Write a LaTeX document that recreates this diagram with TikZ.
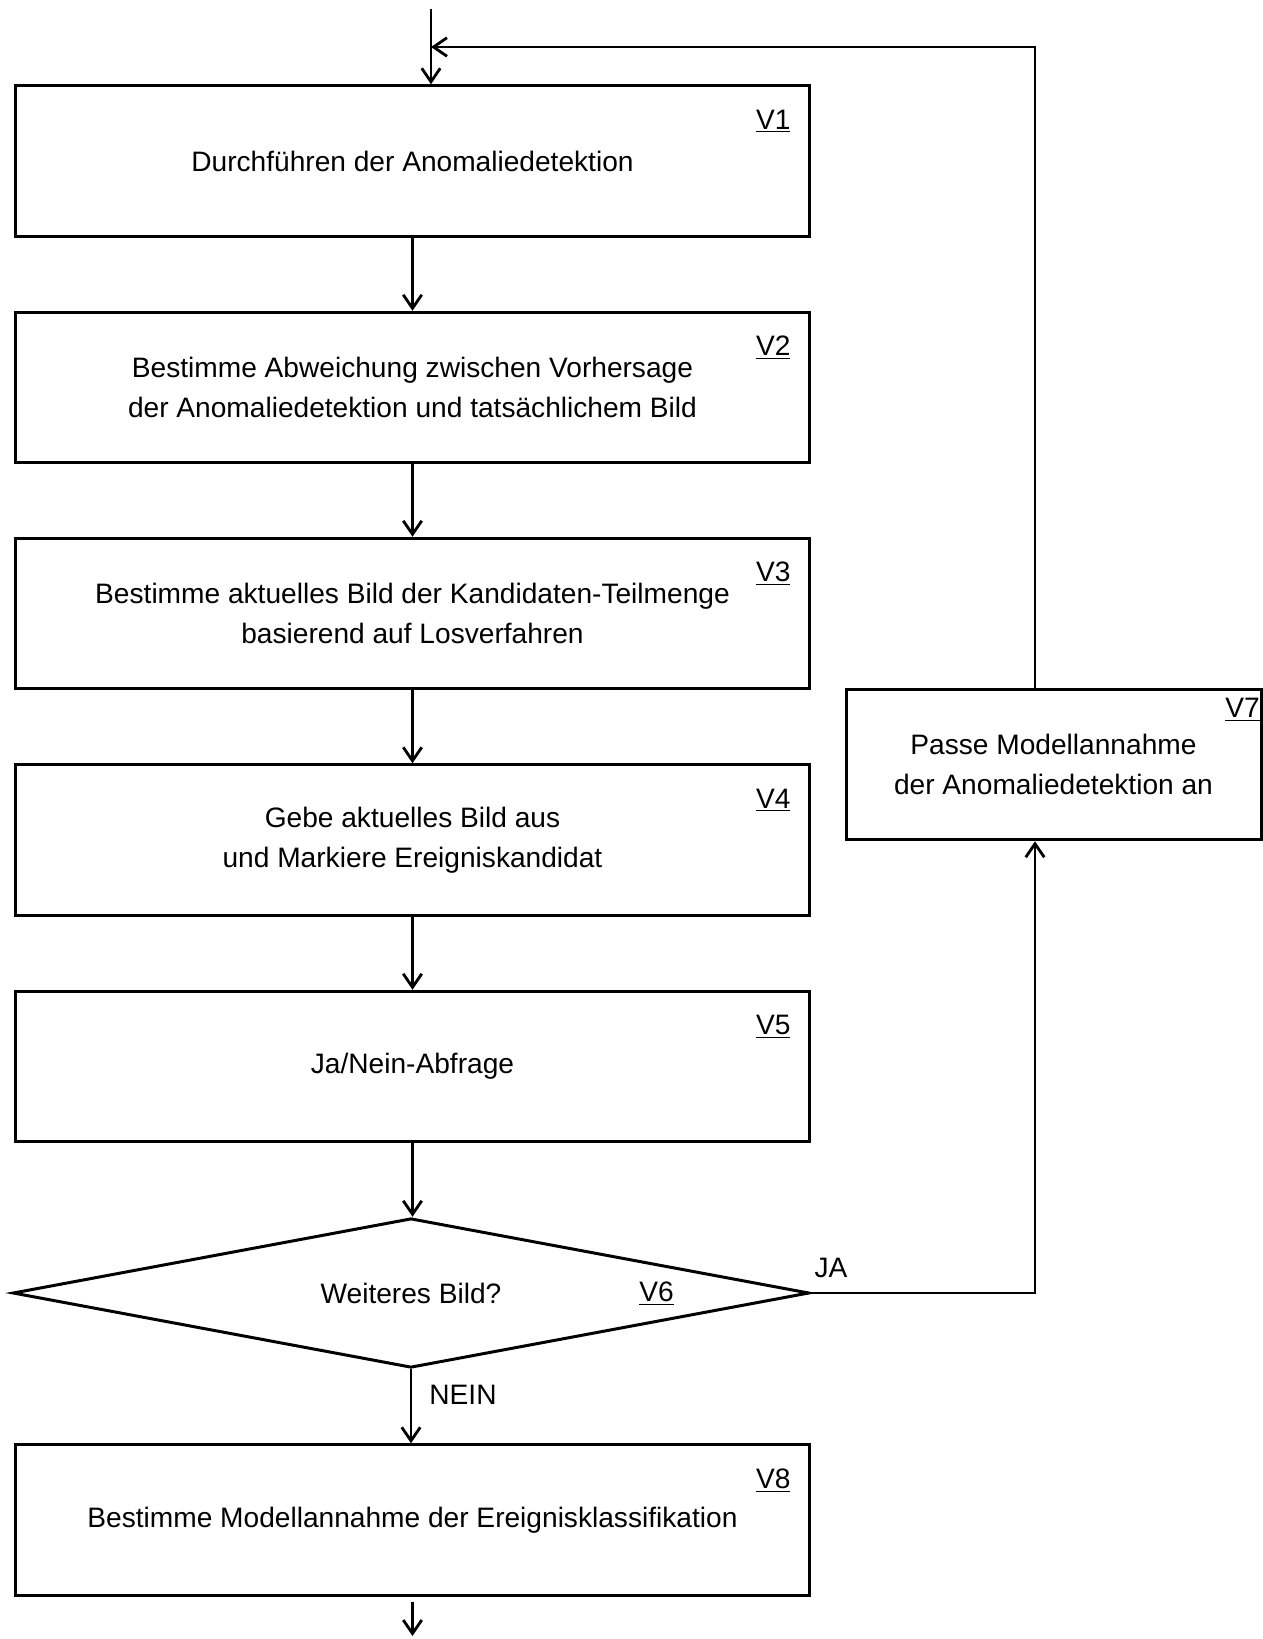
\documentclass[tikz,border=0pt]{standalone}
\usepackage{fontspec}
\setmainfont{Liberation Sans}
\usepackage{tikz}
\usetikzlibrary{shapes.geometric, arrows.meta}

\begin{document}
\begin{tikzpicture}[
		font=\fontsize{16}{22.7}\selectfont,
		>={Straight Barb[length=0.27cm, width=0.37cm]},
		stepbox/.style={draw, line width=1.7pt, minimum width=15.87cm, minimum height=3.01cm, align=center, inner sep=0pt},
		decision/.style={draw, diamond, shape aspect=5.33, line width=1.7pt, minimum width=15.93cm, minimum height=2.99cm, inner sep=0pt},
		steplabel/.style={inner sep=0pt},
		flow/.style={->, line width=1.6pt}
	]
		
		\useasboundingbox (0,0) rectangle (25.26,-32.78);
		
		% Boxes
		\node[stepbox] (v1) at (8.25, -3.22) {Durchführen der Anomaliedetektion};
		\node[stepbox] (v2) at (8.25, -7.75) {Bestimme Abweichung zwischen Vorhersage\\der Anomaliedetektion und tatsächlichem Bild};
		\node[stepbox] (v3) at (8.25, -12.27) {Bestimme aktuelles Bild der Kandidaten-Teilmenge\\basierend auf Losverfahren};
		\node[stepbox] (v4) at (8.25, -16.80) {Gebe aktuelles Bild aus\\und Markiere Ereigniskandidat};
		\node[stepbox] (v5) at (8.25, -21.33) {Ja/Nein-Abfrage};
		\node[decision] (v6) at (8.22, -25.86) {Weiteres Bild?};
		\node[stepbox, minimum width=8.30cm] (v7) at (21.07, -15.29) {Passe Modellannahme\\der Anomaliedetektion an};
		\node[stepbox] (v8) at (8.25, -30.40) {Bestimme Modellannahme der Ereignisklassifikation};
		
		% Step numbers
		\node[steplabel] (l1) at ([xshift=-0.75cm, yshift=-0.74cm] v1.north east) {\underline{V1}};
		\node[steplabel] (l2) at ([xshift=-0.75cm, yshift=-0.74cm] v2.north east) {\underline{V2}};
		\node[steplabel] (l3) at ([xshift=-0.75cm, yshift=-0.74cm] v3.north east) {\underline{V3}};
		\node[steplabel] (l4) at ([xshift=-0.75cm, yshift=-0.74cm] v4.north east) {\underline{V4}};
		\node[steplabel] (l5) at ([xshift=-0.75cm, yshift=-0.74cm] v5.north east) {\underline{V5}};
		\node[steplabel] (l6) at (13.13, -25.87) {\underline{V6}};
		\node[steplabel] (l7) at ([xshift=-0.40cm, yshift=-0.44cm] v7.north east) {\underline{V7}};
		\node[steplabel] (l8) at ([xshift=-0.75cm, yshift=-0.74cm] v8.north east) {\underline{V8}};
		
		% Branch texts
		\node (ja) at (16.62, -25.36) {JA};
		\node (nein) at (9.26, -27.89) {NEIN};
		
		% Loop points
		\coordinate (start) at (8.62, -0.17);
		\coordinate (join) at (8.62, -0.94);
		\coordinate (loop) at (20.70, -0.94);
		\coordinate (finish) at (8.25, -32.72);
		
		% Lines
		\draw[flow] (start) -- (start |- v1.north);
		\draw[flow] (v1) -- (v2);
		\draw[flow] (v2) -- (v3);
		\draw[flow] (v3) -- (v4);
		\draw[flow] (v4) -- (v5);
		\draw[flow] (v5.south) -- (v5.south |- v6.north);
		\draw[flow] (v6.south) -- (v6.south |- v8.north);
		\draw[flow] (v6.east) -| (loop |- v7.south);
		\draw[flow] (loop |- v7.north) -- (loop) -- (join);
		\draw[flow] ([yshift=-0.1cm] v8.south) -- (finish);
		
	\end{tikzpicture}
\end{document}
